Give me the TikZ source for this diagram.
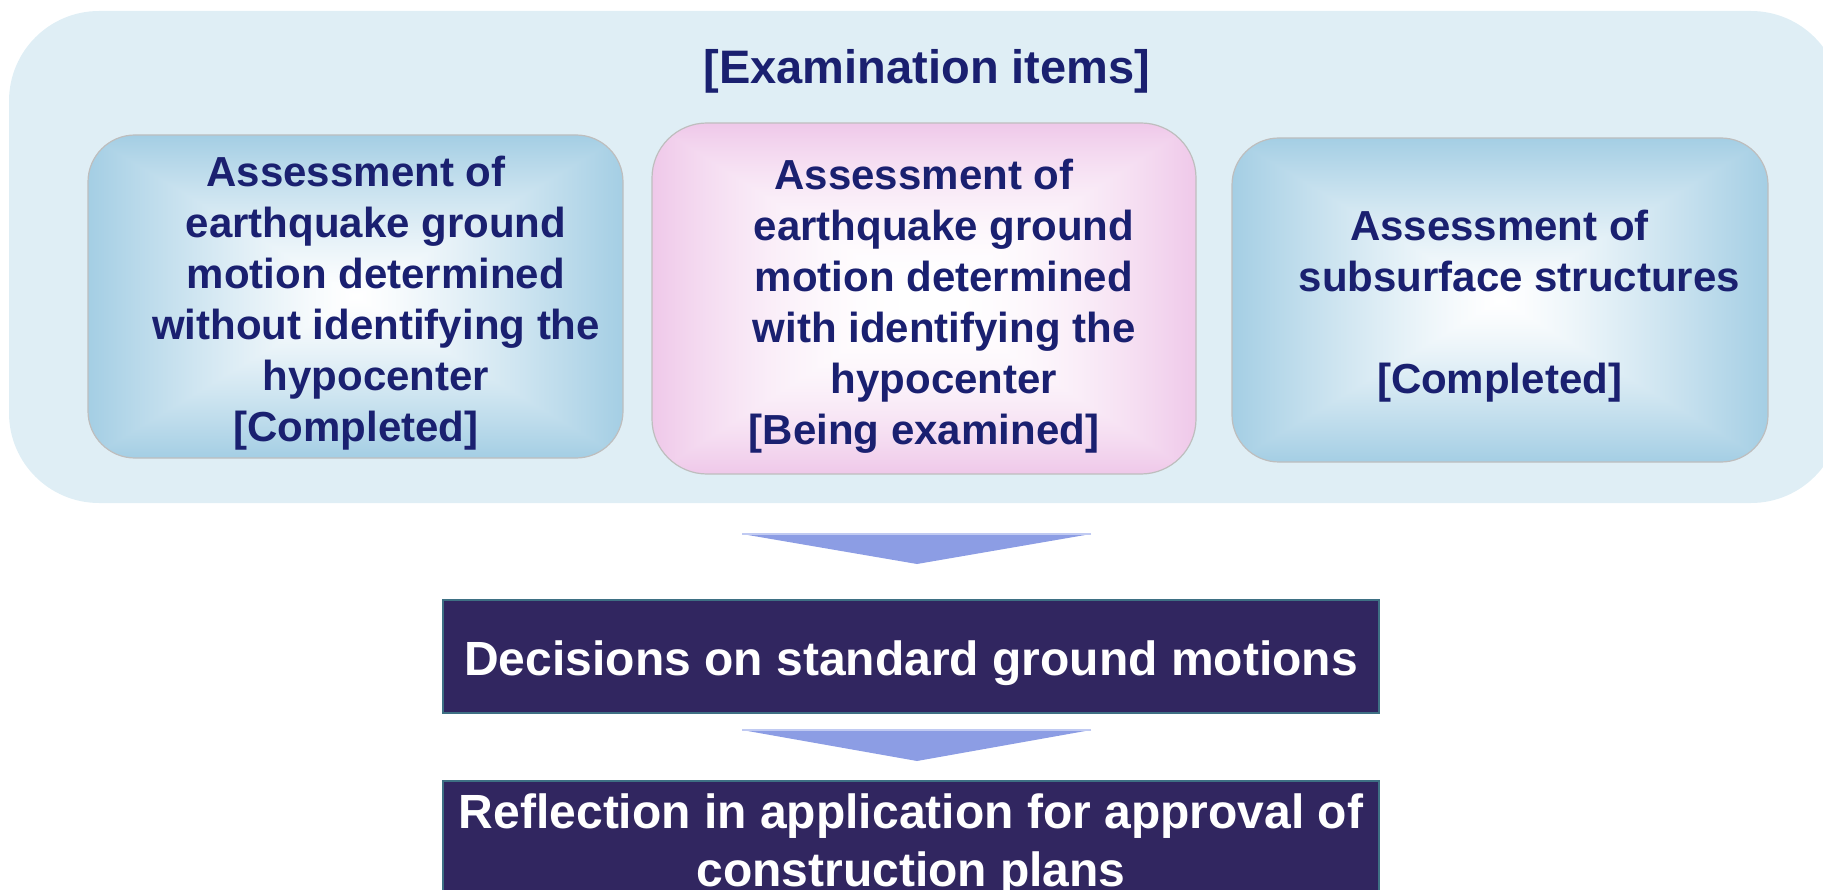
\documentclass[tikz,border=0pt]{standalone}
\usepackage{fontspec}
\setmainfont{Liberation Sans}
\usetikzlibrary{calc}

\definecolor{bgblue}{RGB}{223,238,245}
\definecolor{navy}{RGB}{26,32,112}
\definecolor{darkbox}{RGB}{49,38,96}
\definecolor{darkedge}{RGB}{62,112,132}
\definecolor{arrowfill}{RGB}{140,157,228}
\definecolor{arrowtop}{RGB}{192,202,242}
\definecolor{boxline}{RGB}{190,190,190}

\pgfdeclarefunctionalshading{blueglow}{\pgfpoint{-50bp}{-50bp}}{\pgfpoint{50bp}{50bp}}{}{abs exch abs 2 copy lt {exch} if pop 25 div dup 1 gt {pop 1} if 1.25 exp dup 0.357 mul 1 exch sub exch dup 0.192 mul 1 exch sub exch 0.106 mul 1 exch sub}
\pgfdeclarefunctionalshading{pinkglow}{\pgfpoint{-50bp}{-50bp}}{\pgfpoint{50bp}{50bp}}{}{abs exch abs 2 copy lt {exch} if pop 25 div dup 1 gt {pop 1} if 2 exp dup 0.063 mul 1 exch sub exch dup 0.216 mul 1 exch sub exch 0.086 mul 1 exch sub}

\begin{document}
\begin{tikzpicture}[x=1pt,y=-1pt,
  itembox/.style={draw=boxline, line width=1.2pt, inner sep=0pt},
  bluebox/.style={itembox, shade, shading=blueglow, rounded corners=47pt},
  pinkbox/.style={itembox, shade, shading=pinkglow, rounded corners=55pt},
  itemtext/.style={text=navy, align=center, inner sep=0pt,
    font=\bfseries\fontsize{42pt}{51pt}\selectfont},
  titletext/.style={text=navy, inner sep=0pt, font=\bfseries\fontsize{47pt}{56pt}\selectfont},
  darkstyle/.style={fill=darkbox, draw=darkedge, line width=1.5pt, text=white,
    align=center, inner sep=0pt, minimum width=936pt,
    font=\bfseries\fontsize{48pt}{58pt}\selectfont},
  flowarrow/.style={fill=arrowfill},
  flowtop/.style={draw=arrowtop, line width=1.5pt}
]
\useasboundingbox (0,0) rectangle (1823,890);
\begin{scope}
\clip (0,0) rectangle (1823,890);
\fill[bgblue, rounded corners=90pt] (9,11) rectangle (1841,503);

\node[titletext] (title) at (927,71) {[Examination items]};

\node[bluebox, minimum width=535pt, minimum height=323pt] (b1) at (355.5,296.5) {};
\node[pinkbox, minimum width=544pt, minimum height=351pt] (b2) at (924,298.5) {};
\node[bluebox, minimum width=536pt, minimum height=324pt] (b3) at (1500,300) {};

\node[itemtext] (t1) at (376,303) {Assessment of\hspace*{40pt}\\ earthquake ground\\ motion determined\\ without identifying the\\ hypocenter\\ {[Completed]}\hspace*{40pt}};
\node[itemtext] (t2) at (944,306.5) {Assessment of\hspace*{40pt}\\ earthquake ground\\ motion determined\\ with identifying the\\ hypocenter\\ {[Being examined]}\hspace*{40pt}};
\node[itemtext] (t3) at (1519.5,306) {Assessment of\hspace*{40pt}\\ subsurface structures\\ \mbox{}\\ {[Completed]}\hspace*{40pt}};

\node[darkstyle, minimum height=113pt] (dec) at (911,656.5) {};
\node[text=white, inner sep=0pt, font=\bfseries\fontsize{48pt}{58pt}\selectfont] (dect) at (911,663.5) {Decisions on standard ground motions};
\node[darkstyle, minimum height=116pt] (refl) at (911,839) {};
\node[text=white, align=center, inner sep=0pt, font=\bfseries\fontsize{48pt}{58pt}\selectfont] (reflt) at (911,845) {Reflection in application for approval of\\ construction plans};

\coordinate (a1l) at (742,534);
\coordinate (a1r) at (1091,534);
\coordinate (a1t) at (917,564);
\fill[flowarrow] (a1l) -- (a1r) -- (a1t) -- cycle;
\draw[flowtop] (a1l) -- (a1r);

\coordinate (a2l) at (742,730);
\coordinate (a2r) at (1091,730);
\coordinate (a2t) at (917,761);
\fill[flowarrow] (a2l) -- (a2r) -- (a2t) -- cycle;
\draw[flowtop] (a2l) -- (a2r);
\end{scope}
\end{tikzpicture}
\end{document}
